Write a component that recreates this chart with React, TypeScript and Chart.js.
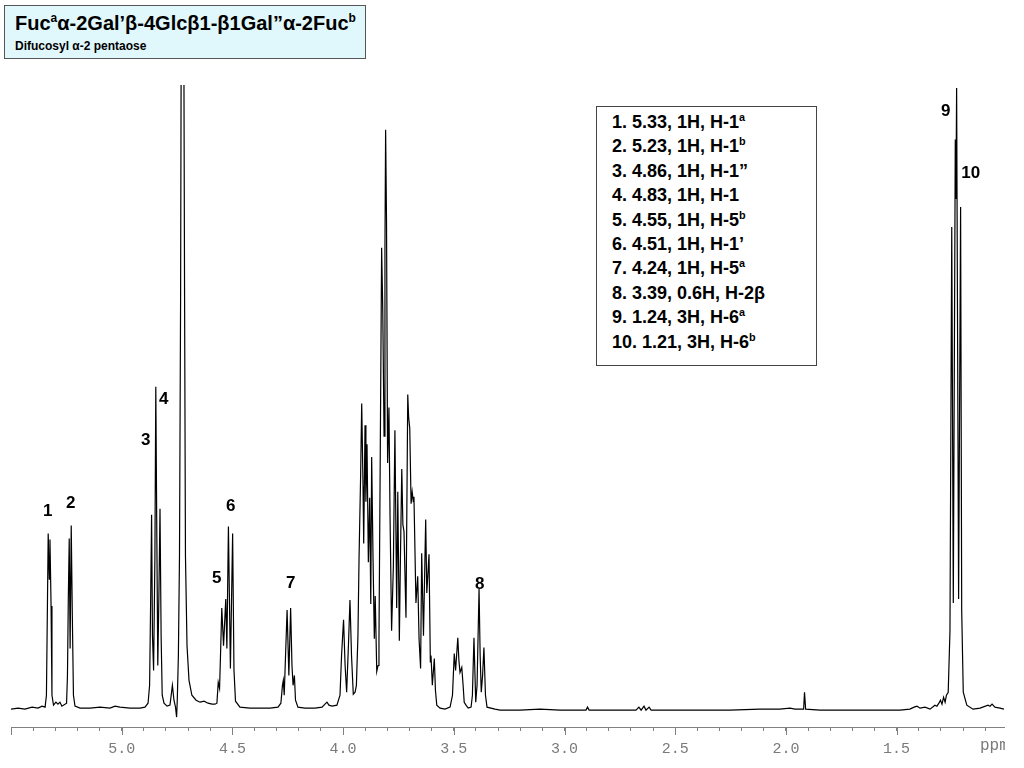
import { useEffect, useRef } from "react";
import { Chart, registerables } from "chart.js";

Chart.register(...registerables);

// trace: [chemical shift (ppm), intensity above baseline]
const anomericTrace: number[][] = [
  [5.5, 0], [5.468, 1], [5.437, 0], [5.405, 2], [5.378, 1], [5.36, 3], [5.346, 2],
  [5.34, 14], [5.335, 114], [5.332, 177], [5.327, 131], [5.324, 171], [5.319, 104], [5.315, 14], [5.308, 4],
  [5.297, 7], [5.288, 5], [5.279, 7], [5.27, 3],
  [5.249, 6], [5.245, 34], [5.241, 114], [5.237, 172], [5.233, 61], [5.228, 185], [5.223, 94], [5.218, 14], [5.211, 3],
  [5.188, 1], [5.143, 1], [5.098, 2], [5.053, 1], [5.03, 3], [5.008, 2], [4.963, 1], [4.917, 1], [4.895, 2],
  [4.881, 6], [4.874, 24], [4.869, 114], [4.865, 196], [4.861, 74], [4.856, 39], [4.85, 154], [4.846, 325],
  [4.842, 194], [4.837, 44], [4.832, 114], [4.827, 202], [4.822, 74], [4.817, 14], [4.809, 6],
  [4.795, 3], [4.782, 4], [4.771, 24], [4.764, 9], [4.757, 2], [4.752, -8], [4.749, 9],
];

// residual water, runs off the top of the plot
const hdoTrace: number[][] = [
  [4.744, 54], [4.739, 154], [4.734, 414], [4.73, 800], [4.721, 800], [4.716, 414], [4.712, 154],
  [4.705, 64], [4.696, 29], [4.683, 14], [4.664, 9], [4.646, 7], [4.628, 8], [4.61, 6], [4.592, 5], [4.579, 5],
];

const h5Trace: number[][] = [
  [4.57, 6], [4.564, 27], [4.558, 21], [4.553, 60], [4.548, 102], [4.54, 64], [4.53, 111], [4.525, 61],
  [4.518, 184], [4.509, 41], [4.499, 177], [4.493, 40], [4.486, 8],
  [4.466, 2], [4.421, 1], [4.375, 1], [4.33, 1], [4.294, 2], [4.281, 6],
  [4.274, 24], [4.27, 29], [4.266, 14], [4.26, 54], [4.253, 100], [4.245, 34], [4.237, 102], [4.231, 44],
  [4.226, 24], [4.22, 34], [4.215, 9], [4.204, 2], [4.172, 1], [4.127, 1], [4.095, 2], [4.082, 5],
  [4.073, 7], [4.064, 4], [4.05, 3], [4.028, 4], [4.014, 14],
];

const ringTrace: number[][] = [
  [4.007, 54], [3.998, 90], [3.991, 44], [3.984, 17], [3.976, 64], [3.969, 110], [3.962, 54], [3.954, 15],
  [3.946, 17], [3.94, 24], [3.933, 74], [3.928, 152], [3.921, 234], [3.916, 308], [3.91, 224], [3.907, 167],
  [3.901, 286], [3.897, 209], [3.892, 267], [3.886, 148], [3.88, 213], [3.875, 106], [3.871, 254], [3.865, 154],
  [3.859, 71], [3.855, 114], [3.848, 38], [3.842, 44], [3.838, 71], [3.832, 264], [3.826, 465], [3.821, 404],
  [3.815, 275], [3.811, 464], [3.808, 584], [3.804, 494], [3.799, 248], [3.793, 304], [3.788, 194], [3.781, 79],
  [3.773, 144], [3.766, 281], [3.758, 102], [3.753, 219], [3.746, 69], [3.741, 154], [3.735, 242], [3.73, 186],
  [3.725, 179], [3.716, 92], [3.708, 317], [3.704, 294], [3.699, 283], [3.693, 207], [3.688, 219], [3.683, 209],
  [3.68, 214], [3.671, 107], [3.663, 134], [3.657, 71], [3.65, 41], [3.645, 157], [3.637, 74], [3.627, 191],
  [3.622, 117], [3.612, 156], [3.606, 47], [3.603, 54], [3.597, 24], [3.588, 51], [3.583, 19], [3.577, 4],
  [3.562, 1], [3.54, 0], [3.517, 2], [3.506, 14], [3.498, 56], [3.492, 39], [3.482, 72], [3.477, 49],
  [3.472, 37], [3.464, 42], [3.458, 24], [3.453, 7], [3.445, 4], [3.435, 1], [3.422, 2], [3.416, 14],
  [3.409, 72], [3.401, 7], [3.395, 24], [3.386, 121], [3.381, 54], [3.376, 17], [3.37, 34], [3.364, 62],
  [3.357, 14], [3.35, 2], [3.314, 0],
];

const methylTrace: number[][] = [
  [3.291, -1], [3.201, -1], [3.111, 0], [3.02, -1], [2.93, -1], [2.903, -1], [2.896, 2], [2.889, -1],
  [2.84, -1], [2.749, -1], [2.677, -1], [2.664, 2], [2.654, -1], [2.641, 3], [2.632, -1], [2.618, 2],
  [2.609, -1], [2.524, -1], [2.388, -1], [2.253, -1], [2.117, 0], [2.027, 0], [1.982, 1], [1.959, 0],
  [1.936, 0], [1.92, 0], [1.916, 17], [1.911, 0], [1.846, -1], [1.71, -1], [1.575, -1], [1.485, -1],
  [1.44, 0], [1.421, 2], [1.408, 3], [1.394, 1], [1.372, 2], [1.349, 0], [1.327, 4], [1.318, 3],
  [1.309, 6], [1.302, 9], [1.295, 5], [1.288, 12], [1.281, 7], [1.275, 14], [1.267, 17], [1.259, 79],
  [1.251, 486], [1.244, 107], [1.235, 574], [1.232, 514], [1.229, 626], [1.22, 111], [1.211, 506], [1.206, 99],
  [1.199, 17], [1.183, 4], [1.155, 0], [1.123, 1], [1.087, 4], [1.078, 3], [1.069, 5], [1.056, 2],
  [1.033, 1], [1.015, 0],
];

// numbered peak labels
const peakLabels = ["1", "2", "3", "4", "5", "6", "7", "8", "9", "10"];
const peakLabelPpm = [5.334, 5.23, 4.892, 4.81, 4.571, 4.508, 4.237, 3.383, 1.278, 1.165];
const peakLabelInt = [199, 207, 271, 312, 132, 204, 127, 126, 602, 540];

// assignment table
const legendShift = ["5.33", "5.23", "4.86", "4.83", "4.55", "4.51", "4.24", "3.39", "1.24", "1.21"];
const legendProtons = ["1H", "1H", "1H", "1H", "1H", "1H", "1H", "0.6H", "3H", "3H"];
const legendAssign = ["H-1", "H-1", "H-1\u201d", "H-1", "H-5", "H-1\u2019", "H-5", "H-2\u03b2", "H-6", "H-6"];
const legendSup = ["a", "b", "", "", "b", "", "a", "", "a", "b"];

// x axis
const axisMax = 5.5;
const axisMin = 1.015;
const majorTicks = [5.5, 5.0, 4.5, 4.0, 3.5, 3.0, 2.5, 2.0, 1.5];
const majorTickLabels = ["", "5.0", "4.5", "4.0", "3.5", "3.0", "2.5", "2.0", "1.5"];

const AXIS_COLOR = "#808080";
const SANS = '"Liberation Sans", Arial, sans-serif';
const MONO = '"Liberation Mono", "Courier New", monospace';

const overlay = {
  id: "nmrOverlay",
  afterDraw(chart: any) {
    const { ctx, chartArea } = chart;
    const xs = chart.scales.x;
    const ys = chart.scales.y;
    ctx.save();
    // longer ticks at every 0.5 ppm
    ctx.strokeStyle = AXIS_COLOR;
    ctx.lineWidth = 1;
    majorTicks.forEach((v) => {
      const px = Math.round(xs.getPixelForValue(v)) + 0.5;
      ctx.beginPath();
      ctx.moveTo(px, chartArea.bottom);
      ctx.lineTo(px, chartArea.bottom + 8);
      ctx.stroke();
    });
    // unit at the right end, cut by the edge of the axis
    ctx.save();
    ctx.beginPath();
    ctx.rect(0, 0, chartArea.right + 1, chart.height);
    ctx.clip();
    ctx.font = `16px ${MONO}`;
    ctx.fillStyle = "#7a7a7a";
    ctx.textAlign = "left";
    ctx.textBaseline = "middle";
    ctx.fillText("ppm", chartArea.right - 24, chartArea.bottom + 19);
    ctx.restore();
    // peak numbers
    ctx.font = `bold 17px ${SANS}`;
    ctx.fillStyle = "#000";
    ctx.textAlign = "center";
    ctx.textBaseline = "middle";
    peakLabels.forEach((t, i) => {
      ctx.fillText(t, xs.getPixelForValue(peakLabelPpm[i]), ys.getPixelForValue(peakLabelInt[i]));
    });
    ctx.restore();
  },
};

const App = () => {
  const canvasRef = useRef<HTMLCanvasElement>(null);

  useEffect(() => {
    const trace = [...anomericTrace, ...hdoTrace, ...h5Trace, ...ringTrace, ...methylTrace];
    const minorTicks: number[] = [];
    for (let i = 55; i >= 11; i--) minorTicks.push(i / 10);

    const chart = new Chart(canvasRef.current as HTMLCanvasElement, {
      type: "line",
      data: {
        datasets: [
          {
            data: trace.map(([x, y]) => ({ x, y })),
            borderColor: "#000",
            borderWidth: 1.2,
            pointRadius: 0,
            tension: 0,
            fill: false,
          },
        ],
      },
      options: {
        animation: false,
        responsive: false,
        maintainAspectRatio: false,
        events: [],
        layout: { padding: { left: 11, right: 20, top: 85, bottom: 1 } },
        plugins: { legend: { display: false }, tooltip: { enabled: false } },
        scales: {
          x: {
            type: "linear",
            reverse: true,
            min: axisMin,
            max: axisMax,
            afterBuildTicks: (scale: any) => {
              scale.ticks = minorTicks.map((value) => ({ value }));
            },
            grid: {
              drawOnChartArea: false,
              drawTicks: true,
              tickLength: 4,
              color: AXIS_COLOR,
            },
            border: { display: true, color: AXIS_COLOR, width: 1 },
            ticks: {
              autoSkip: false,
              maxRotation: 0,
              minRotation: 0,
              padding: 9,
              color: "#7a7a7a",
              font: { family: MONO, size: 15 },
              callback: (value: any) => {
                const i = majorTicks.findIndex((m) => Math.abs(m - Number(value)) < 1e-6);
                return i >= 0 ? majorTickLabels[i] : "";
              },
            },
          },
          y: {
            display: false,
            min: -18,
            max: 629,
          },
        },
      },
      plugins: [overlay],
    });

    return () => {
      chart.destroy();
    };
  }, []);

  return (
    <div style={{ position: "fixed", left: 0, top: 0, width: 1024, height: 768, background: "#fff" }}>
      <canvas ref={canvasRef} width={1024} height={768} style={{ position: "absolute", left: 0, top: 0 }} />
      <div
        style={{
          position: "absolute",
          left: 4,
          top: 5,
          width: 360,
          height: 52,
          background: "#e0f7fb",
          border: "1px solid #555",
          fontFamily: SANS,
          fontWeight: "bold",
          color: "#000",
        }}
      >
        <div style={{ position: "absolute", left: 10, top: 6, fontSize: 20, lineHeight: "22px", whiteSpace: "nowrap" }}>
          Fuc<sup style={{ fontSize: "0.6em", lineHeight: 0 }}>a</sup>α-2Gal’β-4Glcβ1-β1Gal”α-2Fuc
          <sup style={{ fontSize: "0.6em", lineHeight: 0 }}>b</sup>
        </div>
        <div style={{ position: "absolute", left: 10, top: 33, fontSize: 12, lineHeight: "14px", whiteSpace: "nowrap" }}>
          Difucosyl α-2 pentaose
        </div>
      </div>
      <div
        style={{
          position: "absolute",
          left: 596,
          top: 106,
          width: 204,
          height: 255,
          background: "#fff",
          border: "1px solid #444",
          fontFamily: SANS,
          fontWeight: "bold",
          fontSize: 18,
          lineHeight: "24.4px",
          color: "#000",
          paddingTop: 3,
          paddingLeft: 15,
          boxSizing: "content-box",
          whiteSpace: "nowrap",
        }}
      >
        {legendShift.map((s, i) => (
          <div key={i} style={{ height: 24.4 }}>
            {`${i + 1}. ${s}, ${legendProtons[i]}, ${legendAssign[i]}`}
            {legendSup[i] && <sup style={{ fontSize: "0.6em", lineHeight: 0 }}>{legendSup[i]}</sup>}
          </div>
        ))}
      </div>
    </div>
  );
};

export default App;
